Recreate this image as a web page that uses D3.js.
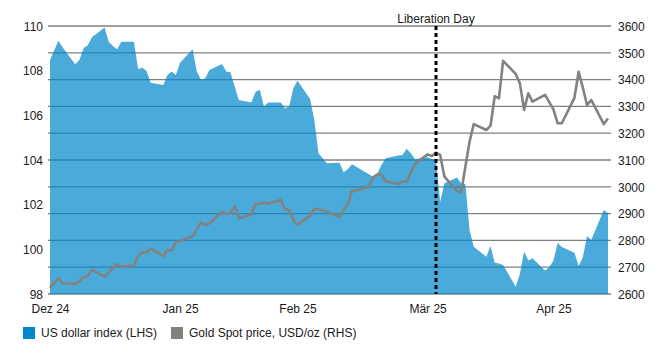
<!DOCTYPE html>
<html>
<head>
<meta charset="utf-8">
<script src="https://cdn.jsdelivr.net/npm/d3@7"></script>
<style>
  body { margin: 0; background: #fff; }
  text { font-family: "Liberation Sans", Arial, sans-serif; font-size: 12px; fill: #1a1a1a; }
</style>
</head>
<body>
<div id="chart"></div>
<script>
// Data (daily, trading days)
var dates = [
  "2024-12-31",
  "2025-01-02","2025-01-03","2025-01-06","2025-01-07","2025-01-08","2025-01-09","2025-01-10",
  "2025-01-13","2025-01-14","2025-01-15","2025-01-16","2025-01-17","2025-01-20","2025-01-21",
  "2025-01-22","2025-01-23","2025-01-24","2025-01-27","2025-01-28","2025-01-29","2025-01-30","2025-01-31",
  "2025-02-03","2025-02-04","2025-02-05","2025-02-06","2025-02-07","2025-02-10","2025-02-11",
  "2025-02-12","2025-02-13","2025-02-14","2025-02-17","2025-02-18","2025-02-19","2025-02-20",
  "2025-02-21","2025-02-24","2025-02-25","2025-02-26","2025-02-27","2025-02-28",
  "2025-03-03","2025-03-04","2025-03-05","2025-03-06","2025-03-07","2025-03-10","2025-03-11",
  "2025-03-12","2025-03-13","2025-03-14","2025-03-17","2025-03-18","2025-03-19","2025-03-20",
  "2025-03-21","2025-03-24","2025-03-25","2025-03-26","2025-03-27","2025-03-28","2025-03-31",
  "2025-04-01","2025-04-02","2025-04-03","2025-04-04","2025-04-07","2025-04-08","2025-04-09",
  "2025-04-10","2025-04-11","2025-04-14","2025-04-15","2025-04-16","2025-04-17","2025-04-18",
  "2025-04-21","2025-04-22","2025-04-23","2025-04-24","2025-04-25","2025-04-28","2025-04-29","2025-04-30",
  "2025-05-01","2025-05-02","2025-05-05","2025-05-06","2025-05-07","2025-05-08","2025-05-09",
  "2025-05-12","2025-05-13"
];
var dollar_index = [
  108.48,
  109.34, 109.05, 108.29, 108.48, 109.0, 109.14, 109.5,
  109.93, 109.3, 109.1, 108.96, 109.3, 109.3, 108.08,
  108.13, 108.0, 107.46, 107.36, 107.81, 107.96, 107.81, 108.36,
  108.96, 107.96, 107.58, 107.66, 108.03, 108.3, 107.96,
  107.93, 107.3, 106.69, 106.57, 107.06, 107.14, 106.39,
  106.58, 106.57, 106.32, 106.4, 107.21, 107.55,
  106.73, 105.79, 104.3, 104.08, 103.85, 103.88, 103.45,
  103.6, 103.81, 103.7, 103.36, 103.25, 103.4, 103.78,
  104.08, 104.2, 104.22, 104.5, 104.3, 104.03, 104.12,
  104.05, 104.0, 102.13, 102.96, 103.22, 102.96, 102.93,
  100.87, 100.12, 99.67, 100.15, 99.4, 99.37, 99.3,
  98.33, 98.9, 99.9, 99.5, 99.6, 99.05, 99.2, 99.5,
  100.3, 100.1, 99.85, 99.25, 99.65, 100.6, 100.42,
  101.76, 101.62
];
var gold_price = [
  2623,
  2659, 2640, 2637, 2648, 2662, 2667, 2690,
  2665, 2680, 2697, 2712, 2702, 2706, 2743,
  2756, 2756, 2769, 2742, 2764, 2762, 2795, 2798,
  2816, 2841, 2867, 2857, 2864, 2907, 2899,
  2903, 2926, 2882, 2897, 2936, 2936, 2941,
  2938, 2951, 2916, 2913, 2876, 2858,
  2892, 2917, 2916, 2912, 2906, 2888, 2915,
  2935, 2985, 2985, 3000, 3035, 3046, 3045,
  3021, 3010, 3019, 3019, 3052, 3085, 3121,
  3115, 3127, 3119, 3038, 2985, 2979, 3075,
  3168, 3234, 3212, 3228, 3338, 3330, 3470,
  3421, 3386, 3287, 3349, 3318, 3343, 3316, 3289,
  3237, 3237, 3332, 3429, 3370, 3305, 3324,
  3234, 3255
];
var left_ticks   = [ 98, 100, 102, 104, 106, 108, 110 ];
var right_ticks  = [ 2600, 2700, 2800, 2900, 3000, 3100, 3200, 3300, 3400, 3500, 3600 ];
var month_ticks  = [ "2024-12-31", "2025-01-31", "2025-02-28", "2025-03-31", "2025-04-30" ];
var month_labels = [ "Dez 24", "Jan 25", "Feb 25", "Mär 25", "Apr 25" ];
var event_date   = "2025-04-02";
var event_label  = "Liberation Day";
var legend_items = [ "US dollar index (LHS)", "Gold Spot price, USD/oz (RHS)" ];

var chart_width  = 667;
var chart_height = 353;
var plot_left   = 50,
    plot_right  = 608,
    plot_top    = 26,
    plot_bottom = 294;

var parse = d3.utcParse( "%Y-%m-%d" );
var rows  = dates.map( function( d, i ){
  return { date: parse( d ), usd: dollar_index[i], gold: gold_price[i] };
});

// Scales
var x = d3.scaleUtc()
  .domain( [ parse( dates[0] ), parse( dates[dates.length - 1] ) ] )
  .range( [ plot_left, plot_right ] );
var y_left = d3.scaleLinear().domain( [ 98, 110 ] ).range( [ plot_bottom, plot_top ] );
var y_right = d3.scaleLinear().domain( [ 2600, 3600 ] ).range( [ plot_bottom, plot_top ] );

var svg = d3.select( "#chart" )
  .append( "svg" )
  .attr( "width", chart_width )
  .attr( "height", chart_height );

// Gridlines (right axis)
svg.append( "g" )
  .selectAll( "line" )
  .data( right_ticks )
  .enter()
  .append( "line" )
  .attr( "x1", plot_left - 2 )
  .attr( "x2", plot_right + 3 )
  .attr( "y1", d => y_right( d ) )
  .attr( "y2", d => y_right( d ) )
  .attr( "stroke", "#808080" )
  .attr( "stroke-width", 1.3 );

// Dollar area
var area = d3.area()
  .x( d => x( d.date ) )
  .y0( y_left( 98 ) )
  .y1( d => y_left( d.usd ) );

svg.append( "path" )
  .datum( rows )
  .attr( "d", area )
  .attr( "fill", "#0088cc" )
  .attr( "fill-opacity", 0.71 );

// Gold line
var line = d3.line()
  .x( d => x( d.date ) )
  .y( d => y_right( d.gold ) );

svg.append( "path" )
  .datum( rows )
  .attr( "d", line )
  .attr( "fill", "none" )
  .attr( "stroke", "#84827e" )
  .attr( "stroke-width", 2.6 )
  .attr( "stroke-linejoin", "round" );

// Event marker
var ex = x( parse( event_date ) );
svg.append( "line" )
  .attr( "x1", ex ).attr( "x2", ex )
  .attr( "y1", plot_top ).attr( "y2", plot_bottom )
  .attr( "stroke", "#000" )
  .attr( "stroke-width", 3 )
  .attr( "stroke-dasharray", "4,3" );
svg.append( "text" )
  .attr( "x", ex )
  .attr( "y", 23 )
  .attr( "text-anchor", "middle" )
  .text( event_label );

// Axes
var left_axis = svg.append( "g" )
  .attr( "transform", "translate(" + ( plot_left - 7 ) + ",0)" )
  .call( d3.axisLeft( y_left ).tickValues( left_ticks ).tickFormat( d3.format( "d" ) ).tickSize( 0 ).tickPadding( 0 ) );
var right_axis = svg.append( "g" )
  .attr( "transform", "translate(" + ( plot_right + 10 ) + ",0)" )
  .call( d3.axisRight( y_right ).tickValues( right_ticks ).tickFormat( d3.format( "d" ) ).tickSize( 0 ).tickPadding( 0 ) );
var bottom_axis = svg.append( "g" )
  .attr( "transform", "translate(0," + ( plot_bottom + 10 ) + ")" )
  .call( d3.axisBottom( x )
    .tickValues( month_ticks.map( parse ) )
    .tickFormat( ( d, i ) => month_labels[i] )
    .tickSize( 0 ).tickPadding( 0 ) );

[ left_axis, right_axis, bottom_axis ].forEach( function( g ){
  g.select( ".domain" ).remove();
  g.selectAll( "text" )
    .attr( "fill", "#1a1a1a" )
    .style( "font-size", "12px" )
    .style( "font-family", "'Liberation Sans', Arial, sans-serif" );
});
left_axis.selectAll( "text" ).attr( "dy", "0.36em" );
right_axis.selectAll( "text" ).attr( "dy", "0.36em" );
bottom_axis.selectAll( "text" ).attr( "dy", "0.71em" );

// Legend
var legend_colors = [ "#0088cc", "#7f7f7b" ];
var legend_x = [ 23, 171 ];
var legend = svg.selectAll( "g.legend" )
  .data( legend_items )
  .enter()
  .append( "g" )
  .attr( "class", "legend" )
  .attr( "transform", ( d, i ) => "translate(" + legend_x[i] + ",327)" );
legend.append( "rect" )
  .attr( "width", 12 )
  .attr( "height", 12 )
  .attr( "fill", ( d, i ) => legend_colors[i] );
legend.append( "text" )
  .attr( "x", 18 )
  .attr( "y", 10 )
  .text( d => d );
</script>
</body>
</html>
